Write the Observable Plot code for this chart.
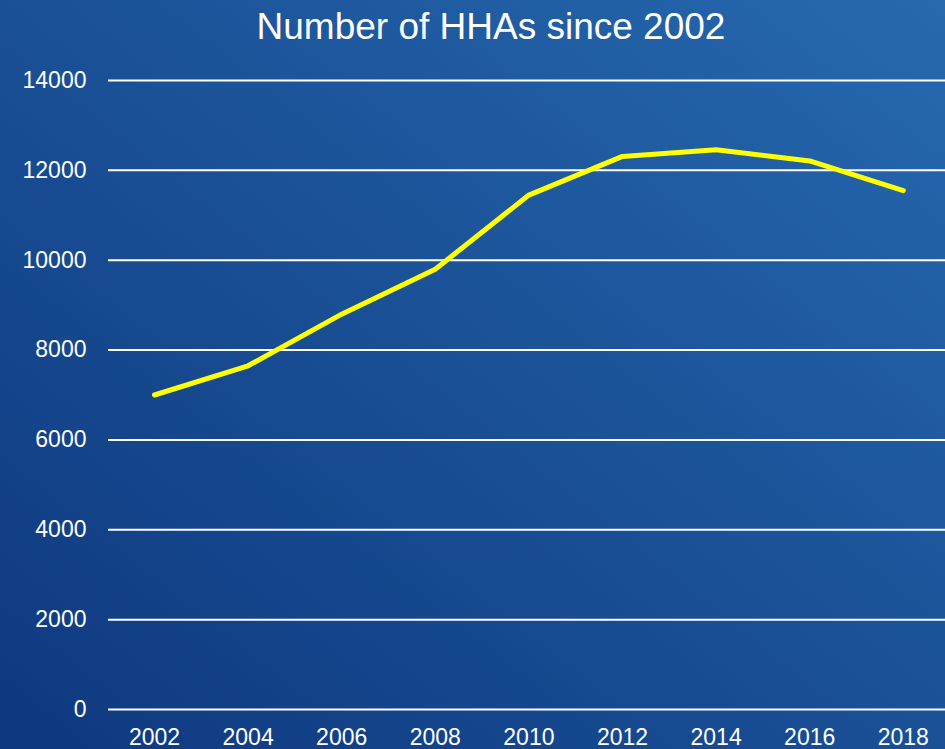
<!DOCTYPE html>
<html>
<head>
<meta charset="utf-8">
<script src="https://cdn.jsdelivr.net/npm/d3@7"></script>
<script src="https://cdn.jsdelivr.net/npm/@observablehq/plot@0.6"></script>
<style>
  html, body { margin: 0; padding: 0; }
  body { width: 945px; height: 749px; overflow: hidden; }
  #wrap {
    position: relative; width: 945px; height: 749px;
    background: linear-gradient(to top right, #0e387f 0%, #1a5096 50%, #2669af 100%);
    font-family: "Liberation Sans", Arial, sans-serif;
  }
  #title {
    position: absolute; left: 0; top: 5px; width: 982px; text-align: center;
    color: #ffffff; font-size: 37px; line-height: 44px;
  }
  #chart { position: absolute; left: 0; top: 0; }
</style>
</head>
<body>
<div id="wrap">
  <div id="chart"></div>
  <div id="title">Number of HHAs since 2002</div>
</div>
<script>
const years = [2002, 2004, 2006, 2008, 2010, 2012, 2014, 2016, 2018];
const agencies = [7000, 7650, 8800, 9800, 11450, 12310, 12460, 12210, 11550];
const yTicks = [0, 2000, 4000, 6000, 8000, 10000, 12000, 14000];

const data = years.map((y, i) => ({year: y, value: agencies[i]}));

const chart = Plot.plot({
  width: 945,
  height: 749,
  marginLeft: 108,
  marginRight: 0,
  marginTop: 80,
  marginBottom: 40,
  style: {background: "transparent", color: "#ffffff", fontFamily: "'Liberation Sans', Arial, sans-serif", fontSize: "23px"},
  x: {domain: [2001, 2019], range: [107.2, 949.6]},
  y: {domain: [0, 14000], range: [709, 80]},
  marks: [
    Plot.ruleY(yTicks, {stroke: "#ffffff", strokeWidth: 2, strokeOpacity: 1}),
    Plot.axisY({ticks: yTicks, tickSize: 0, tickPadding: 22, label: null, tickFormat: d => String(d), fontSize: 23, fill: "#ffffff"}),
    Plot.axisX({ticks: years, tickSize: 0, tickPadding: 19, label: null, tickFormat: d => String(d), fontSize: 23, fill: "#ffffff"}),
    Plot.line(data, {x: "year", y: "value", stroke: "#ffff00", strokeWidth: 5, strokeLinecap: "round", strokeLinejoin: "round"})
  ]
});
document.getElementById("chart").appendChild(chart);
</script>
</body>
</html>
